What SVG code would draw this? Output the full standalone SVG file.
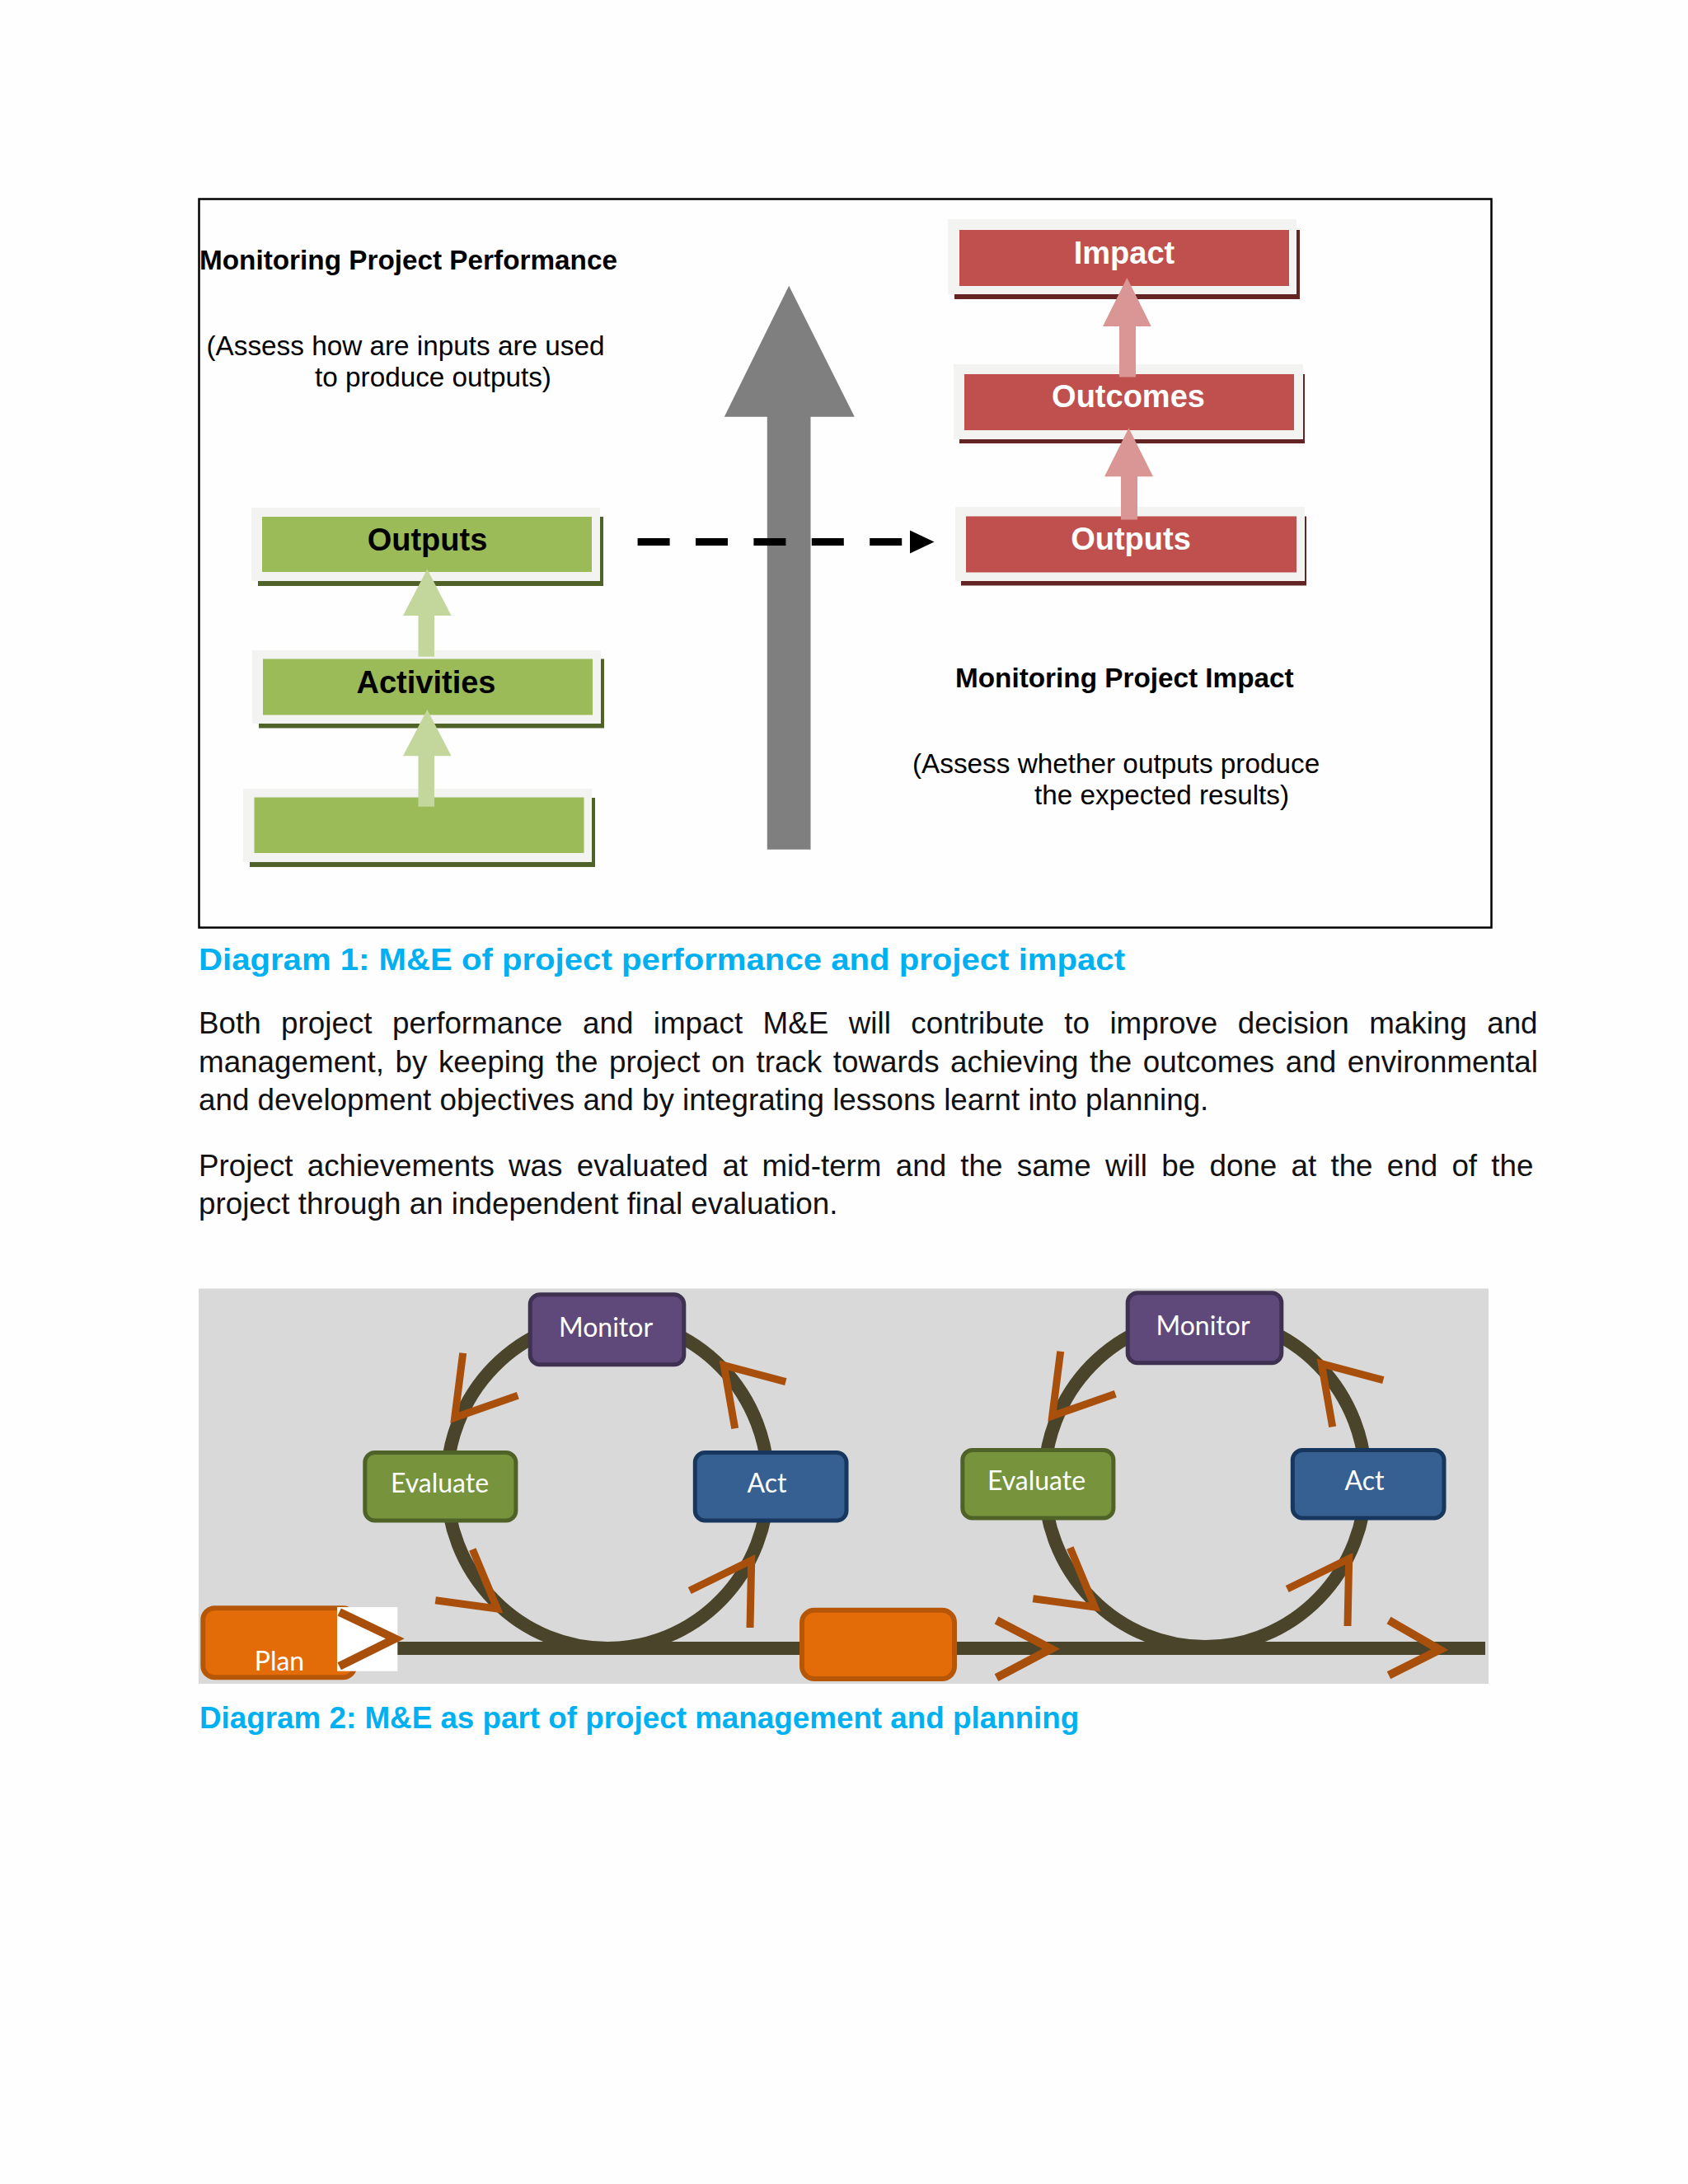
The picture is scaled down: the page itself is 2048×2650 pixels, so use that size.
<svg xmlns="http://www.w3.org/2000/svg" width="2048" height="2650" viewBox="0 0 2048 2650">
<style>
  .hd { font-family: "Liberation Sans", Arial, sans-serif; font-size: 33.3px; font-weight: bold; fill: #000; }
  .note { font-family: "Liberation Sans", Arial, sans-serif; font-size: 33.3px; fill: #000; }
  .lbl { font-family: "Liberation Sans", Arial, sans-serif; font-size: 38px; font-weight: bold; text-anchor: middle; }
  .body { font-family: "Liberation Sans", Arial, sans-serif; font-size: 36.8px; fill: #111; }
  .cap { font-family: "Liberation Sans", Arial, sans-serif; font-size: 36.8px; font-weight: bold; fill: #00b0f0; }
  .frame { fill: #f3f3f1; }
  .gfill { fill: #9bbb59; }
  .gshad { fill: #4f6228; }
  .rfill { fill: #c0504d; }
  .rshad { fill: #632423; }
  .cyc { font-family: Lato, "Open Sans", sans-serif; font-size: 32px; fill: #fff; text-anchor: middle; }
  .ring { fill: none; stroke: #4a452a; stroke-width: 16; }
  .chev { fill: none; stroke: #a84f0c; stroke-width: 9; stroke-linejoin: miter; }
  .chevb { fill: none; stroke: #a84f0c; stroke-width: 10; stroke-linejoin: miter; }
</style>
<rect x="0" y="0" width="2048" height="2650" fill="#fefefe"/>

<!-- Diagram 1 frame -->
<rect id="frame1" x="241.5" y="241.5" width="1568" height="884" fill="#fefefe" stroke="#000" stroke-width="2.5"/>

<g id="title-performance">
  <text class="hd" x="242" y="326.5">Monitoring Project Performance</text>
  <text class="note" x="250.5" y="431">(Assess how are inputs are used</text>
  <text class="note" x="382" y="468.5">to produce outputs)</text>
</g>

<g id="title-impact">
  <text class="hd" x="1159" y="834">Monitoring Project Impact</text>
  <text class="note" x="1107" y="938">(Assess whether outputs produce</text>
  <text class="note" x="1255" y="976">the expected results)</text>
</g>

<!-- Green boxes -->
<g id="g-outputs">
  <rect class="gshad" x="313" y="627" width="419" height="84"/>
  <rect class="frame" x="305" y="616" width="423" height="89"/>
  <rect class="gfill" x="318" y="627" width="400" height="67"/>
  <text class="lbl" x="518.5" y="667.5" fill="#000">Outputs</text>
</g>
<g id="g-activities">
  <rect class="gshad" x="314" y="799.5" width="419" height="84"/>
  <rect class="frame" x="306" y="789" width="423" height="89"/>
  <rect class="gfill" x="319" y="799.5" width="400" height="68"/>
  <text class="lbl" x="517" y="840.5" fill="#000">Activities</text>
</g>
<g id="g-inputs">
  <rect class="gshad" x="303" y="968" width="419" height="84"/>
  <rect class="frame" x="295" y="957" width="423" height="89"/>
  <rect class="gfill" x="308.5" y="967.5" width="400" height="67.5"/>
</g>

<!-- Red boxes -->
<g id="r-impact">
  <rect class="rshad" x="1158" y="279" width="419" height="84"/>
  <rect class="frame" x="1150" y="266" width="423" height="91"/>
  <rect class="rfill" x="1164" y="279" width="400" height="68"/>
  <text class="lbl" x="1364" y="320" fill="#fff">Impact</text>
</g>
<g id="r-outcomes">
  <rect class="rshad" x="1164" y="454" width="419" height="84"/>
  <rect class="frame" x="1157" y="442" width="424" height="91"/>
  <rect class="rfill" x="1170" y="454" width="400" height="68"/>
  <text class="lbl" x="1369" y="494" fill="#fff">Outcomes</text>
</g>
<g id="r-outputs">
  <rect class="rshad" x="1166" y="626.5" width="419" height="84"/>
  <rect class="frame" x="1159" y="615" width="424" height="90"/>
  <rect class="rfill" x="1172" y="626.5" width="401" height="68"/>
  <text class="lbl" x="1372" y="666.5" fill="#fff">Outputs</text>
</g>

<!-- Diagram 1 connectors -->
<g id="connectors-1">
  <polygon id="big-arrow" fill="#7f7f7f" points="957.2,346.8 1036.8,505.8 983.5,505.8 983.5,1030.7 930.8,1030.7 930.8,505.8 878.8,505.8"/>
  <polygon fill="#c3d69b" points="518.3,690.6 547.6,746.9 527,746.9 527,796.7 507.5,796.7 507.5,746.9 489,746.9"/>
  <polygon fill="#c3d69b" points="518.3,861 547.6,917.2 527,917.2 527,978.8 507.5,978.8 507.5,917.2 489,917.2"/>
  <polygon fill="#d99694" points="1367.4,337.1 1396.8,396 1378,396 1378,457.6 1358,457.6 1358,396 1338,396"/>
  <polygon fill="#d99694" points="1369.5,519.2 1399,578.2 1380,578.2 1380,630.6 1360,630.6 1360,578.2 1340,578.2"/>
  <line x1="773.6" y1="657.5" x2="1095" y2="657.5" stroke="#000" stroke-width="9" stroke-dasharray="39 31.4"/>
  <polygon fill="#000" points="1104,643.5 1133.5,657.5 1104,671.5"/>
</g>

<!-- Caption 1 and body text -->
<text class="cap" x="241" y="1177" textLength="1124" lengthAdjust="spacingAndGlyphs">Diagram 1: M&amp;E of project performance and project impact</text>

<g id="body-text">
  <text class="body" x="241" y="1254" word-spacing="14.2">Both project performance and impact M&amp;E will contribute to improve decision making and</text>
  <text class="body" x="241" y="1300.5" word-spacing="3.3">management, by keeping the project on track towards achieving the outcomes and environmental</text>
  <text class="body" x="241" y="1347">and development objectives and by integrating lessons learnt into planning.</text>
  <text class="body" x="241" y="1427" word-spacing="7.0">Project achievements was evaluated at mid-term and the same will be done at the end of the</text>
  <text class="body" x="241" y="1473">project through an independent final evaluation.</text>
</g>

<!-- Diagram 2 -->
<rect id="bg2" x="241" y="1563.5" width="1565" height="479.5" fill="#d9d9d9"/>

<g id="connectors-2">
  <line x1="482" y1="2000" x2="1802" y2="2000" stroke="#4a452a" stroke-width="16"/>
  <ellipse class="ring" cx="737" cy="1800" rx="195" ry="200"/>
  <ellipse class="ring" cx="1462" cy="1798" rx="195" ry="200"/>
  <polyline class="chevb" points="1209,1966 1275.3,2000.7 1209,2035.7"/>
  <polyline class="chevb" points="1685,1966 1746.7,2001.7 1685,2032.7"/>
  <g id="cycle-arrows-1">
    <polyline class="chev" points="561.7,1641.7 551.7,1720 628.3,1693.3"/>
    <polyline class="chev" points="573.3,1880 603.3,1952 528.3,1941.7"/>
    <polyline class="chev" points="910,1975 911.7,1893.3 836.7,1930"/>
    <polyline class="chev" points="891.7,1733.3 878.3,1656.7 953.3,1676.7"/>
  </g>
  <g id="cycle-arrows-2" transform="translate(725,-2)">
    <polyline class="chev" points="561.7,1641.7 551.7,1720 628.3,1693.3"/>
    <polyline class="chev" points="573.3,1880 603.3,1952 528.3,1941.7"/>
    <polyline class="chev" points="910,1975 911.7,1893.3 836.7,1930"/>
    <polyline class="chev" points="891.7,1733.3 878.3,1656.7 953.3,1676.7"/>
  </g>
</g>

<g id="plan">
  <rect x="246.3" y="1951.3" width="184" height="84" rx="14" fill="#e36c09" stroke="#b65708" stroke-width="6"/>
  <rect x="409" y="1950" width="73.3" height="77.7" fill="#fff"/>
  <polyline class="chevb" points="411.7,1956 479.3,1988.3 411.7,2021.7"/>
  <text class="cyc" x="339" y="2026.7">Plan</text>
</g>
<g id="mid-box">
  <rect x="973" y="1953.7" width="185" height="83.3" rx="15" fill="#e36c09" stroke="#b65708" stroke-width="6"/>
</g>

<g id="monitor-1">
  <rect x="643.2" y="1570.8" width="186.6" height="85" rx="12" fill="#5f497a" stroke="#3f3151" stroke-width="5"/>
  <text class="cyc" x="735" y="1621.7">Monitor</text>
</g>
<g id="evaluate-1">
  <rect x="442.8" y="1762.5" width="183.1" height="82.5" rx="12" fill="#77933c" stroke="#4f6228" stroke-width="5"/>
  <text class="cyc" x="533.5" y="1811.4">Evaluate</text>
</g>
<g id="act-1">
  <rect x="843.3" y="1762.5" width="183.7" height="82.5" rx="12" fill="#366092" stroke="#17375e" stroke-width="5"/>
  <text class="cyc" x="930.5" y="1811.4">Act</text>
</g>
<g id="monitor-2">
  <rect x="1368.2" y="1568.8" width="186.6" height="85" rx="12" fill="#5f497a" stroke="#3f3151" stroke-width="5"/>
  <text class="cyc" x="1459.5" y="1619.7">Monitor</text>
</g>
<g id="evaluate-2">
  <rect x="1167.8" y="1759.5" width="183.1" height="82.5" rx="12" fill="#77933c" stroke="#4f6228" stroke-width="5"/>
  <text class="cyc" x="1257.5" y="1808.4">Evaluate</text>
</g>
<g id="act-2">
  <rect x="1568.3" y="1759.5" width="183.7" height="82.5" rx="12" fill="#366092" stroke="#17375e" stroke-width="5"/>
  <text class="cyc" x="1655.5" y="1808.4">Act</text>
</g>

<text class="cap" x="242" y="2097">Diagram 2: M&amp;E as part of project management and planning</text>
</svg>
